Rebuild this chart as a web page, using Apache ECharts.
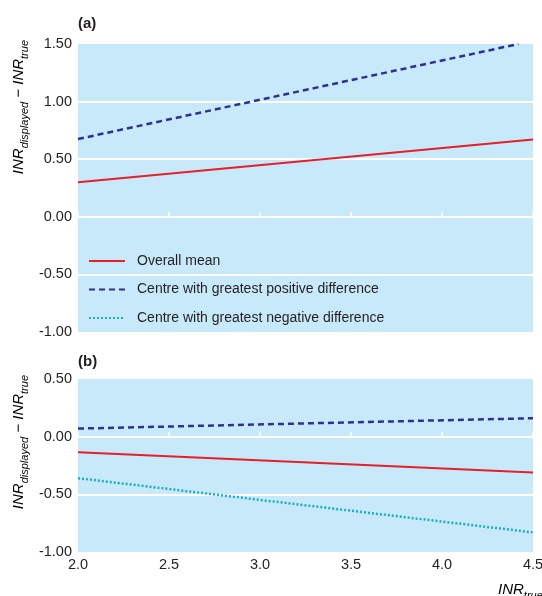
<!DOCTYPE html>
<html>
<head>
<meta charset="utf-8">
<script src="https://cdn.jsdelivr.net/npm/echarts@6/dist/echarts.min.js"></script>
<style>
html,body{margin:0;padding:0;background:#fff;}
#c{width:542px;height:596px;}
</style>
</head>
<body>
<div id="c"></div>
<script>
// ---- data ----
const seriesNames = ['Overall mean', 'Centre with greatest positive difference', 'Centre with greatest negative difference'];
const xEnds = [2.0, 4.5];
// panel (a)
const aMean = [0.30, 0.67];
const aPositiveX = [2.0, 4.42];
const aPositive = [0.675, 1.50];
// panel (b)
const bPositive = [0.07, 0.16];
const bMean = [-0.135, -0.31];
const bNegative = [-0.36, -0.83];
const xTicks = [2.0, 2.5, 3.0, 3.5, 4.0, 4.5];
const aYTicks = [-1.0, -0.5, 0.0, 0.5, 1.0, 1.5];
const bYTicks = [-1.0, -0.5, 0.0, 0.5];

const FONT = "'Liberation Sans', Arial, sans-serif";
const TXT = '#231f20';
const BG = '#c7e9f9';
const RED = '#e5202a';
const BLUE = '#2e3192';
const CYAN = '#1aaec4';

function pairs(xs, ys) { return xs.map((x, i) => [x, ys[i]]); }

const chart = echarts.init(document.getElementById('c'), null, {renderer: 'canvas'});

function xAxisCfg(gi, showLabels) {
  return {
    type: 'value', gridIndex: gi,
    min: xTicks[0], max: xTicks[xTicks.length - 1], interval: 0.5,
    axisLine: {show: false},
    axisTick: {show: true, inside: true, length: 5, lineStyle: {color: '#ffffff', width: 1.5}},
    splitLine: {show: false},
    axisLabel: {show: showLabels, margin: 5, color: TXT, fontFamily: FONT, fontSize: 14.5,
      formatter: v => v.toFixed(1)}
  };
}
function yAxisCfg(gi, ticks) {
  return {
    type: 'value', gridIndex: gi,
    min: ticks[0], max: ticks[ticks.length - 1], interval: 0.5,
    axisLine: {show: false}, axisTick: {show: false},
    splitLine: {show: true, showMinLine: false, showMaxLine: false, lineStyle: {color: '#ffffff', width: 2}},
    axisLabel: {margin: 6, color: TXT, fontFamily: FONT, fontSize: 14.5, formatter: v => v.toFixed(2)}
  };
}

const richLabel = {
  m: {fontFamily: FONT, fontStyle: 'italic', fontSize: 15, color: TXT, verticalAlign: 'top', lineHeight: 17},
  s: {fontFamily: FONT, fontStyle: 'italic', fontSize: 11, color: TXT, verticalAlign: 'top', lineHeight: 12, padding: [8, 0, 0, 0]}
};
const yNameText = '{m|INR}{s|displayed}{m| − INR}{s|true}';

const option = {
  backgroundColor: '#ffffff',
  animation: false,
  title: [
    {text: '(a)', left: 78, top: 16, textStyle: {fontFamily: FONT, fontWeight: 'bold', fontSize: 15, color: TXT}, padding: 0},
    {text: '(b)', left: 78, top: 354, textStyle: {fontFamily: FONT, fontWeight: 'bold', fontSize: 15, color: TXT}, padding: 0}
  ],
  grid: [
    {left: 78, top: 44, width: 455, height: 288, show: true, backgroundColor: BG, borderWidth: 0,
      containLabel: false, outerBoundsMode: 'none'},
    {left: 78, top: 379, width: 455, height: 173, show: true, backgroundColor: BG, borderWidth: 0,
      containLabel: false, outerBoundsMode: 'none'}
  ],
  xAxis: [xAxisCfg(0, false), xAxisCfg(1, true)],
  yAxis: [yAxisCfg(0, aYTicks), yAxisCfg(1, bYTicks)],
  legend: {
    orient: 'vertical', left: 88, top: 252, padding: 0,
    itemWidth: 36, itemHeight: 14, itemGap: 10.5,
    data: seriesNames,
    itemStyle: {opacity: 0},
    textStyle: {fontFamily: FONT, fontSize: 14, color: TXT, lineHeight: 18, padding: [0, 0, 0, 7]},
    selectedMode: false
  },
  graphic: [
    {type: 'text', x: 20, y: 40, rotation: Math.PI / 2,
      style: {text: yNameText, rich: richLabel, align: 'right', verticalAlign: 'middle'}},
    {type: 'text', x: 20, y: 375, rotation: Math.PI / 2,
      style: {text: yNameText, rich: richLabel, align: 'right', verticalAlign: 'middle'}},
    {type: 'text', x: 498, y: 591,
      style: {text: '{m|INR}{s|true}', rich: richLabel, align: 'left', verticalAlign: 'middle'}}
  ],
  series: [
    {name: seriesNames[0], type: 'line', xAxisIndex: 0, yAxisIndex: 0, symbol: 'none', data: pairs(xEnds, aMean),
      lineStyle: {color: RED, width: 2}, itemStyle: {color: RED}},
    {name: seriesNames[1], type: 'line', xAxisIndex: 0, yAxisIndex: 0, symbol: 'none', data: pairs(aPositiveX, aPositive),
      lineStyle: {color: BLUE, width: 2.5, type: [6, 4]}, itemStyle: {color: BLUE}},
    {name: seriesNames[1], type: 'line', xAxisIndex: 1, yAxisIndex: 1, symbol: 'none', data: pairs(xEnds, bPositive),
      lineStyle: {color: BLUE, width: 2.5, type: [6, 4]}, itemStyle: {color: BLUE}},
    {name: seriesNames[0], type: 'line', xAxisIndex: 1, yAxisIndex: 1, symbol: 'none', data: pairs(xEnds, bMean),
      lineStyle: {color: RED, width: 2}, itemStyle: {color: RED}},
    {name: seriesNames[2], type: 'line', xAxisIndex: 1, yAxisIndex: 1, symbol: 'none', data: pairs(xEnds, bNegative),
      lineStyle: {color: CYAN, width: 2.5, type: [2, 2]}, itemStyle: {color: CYAN}}
  ]
};
chart.setOption(option);
</script>
</body>
</html>
